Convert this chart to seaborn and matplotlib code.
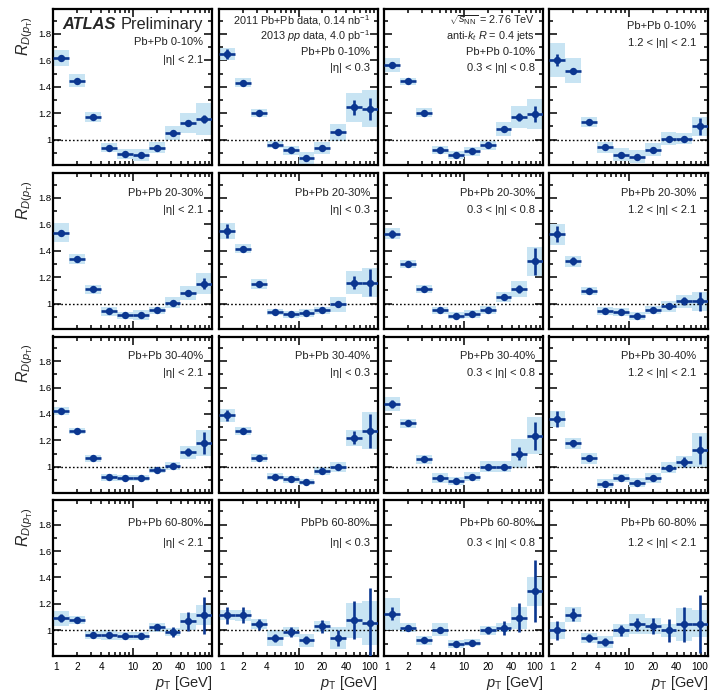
import numpy as np
import pandas as pd
import seaborn as sns
import matplotlib.pyplot as plt
from matplotlib.ticker import FixedLocator, MultipleLocator, FuncFormatter, NullFormatter

# pT bin edges [GeV], 5 bins per decade
PT_EDGES = [1.0, 1.585, 2.512, 3.981, 6.310, 10.0, 15.85, 25.12, 39.81, 63.10, 100.0]

CENTRALITY = ["Pb+Pb 0-10%", "Pb+Pb 20-30%", "Pb+Pb 30-40%", "Pb+Pb 60-80%"]
ETA_BINS = ["|η| < 2.1", "|η| < 0.3", "0.3 < |η| < 0.8", "1.2 < |η| < 2.1"]

# each list: one row per eta bin (column of the grid)
R_0_10 = [
    [1.617, 1.445, 1.171, 0.938, 0.892, 0.882, 0.940, 1.050, 1.126, 1.157],
    [1.647, 1.432, 1.202, 0.962, 0.919, 0.862, 0.937, 1.055, 1.244, 1.232],
    [1.566, 1.440, 1.202, 0.925, 0.887, 0.912, 0.957, 1.081, 1.171, 1.194],
    [1.604, 1.521, 1.131, 0.942, 0.885, 0.872, 0.925, 1.008, 1.008, 1.100],
]
STAT_0_10 = [
    [0.010, 0.008, 0.008, 0.008, 0.008, 0.010, 0.010, 0.012, 0.015, 0.030],
    [0.035, 0.010, 0.010, 0.010, 0.010, 0.010, 0.012, 0.015, 0.055, 0.085],
    [0.025, 0.010, 0.010, 0.010, 0.010, 0.010, 0.010, 0.015, 0.030, 0.060],
    [0.047, 0.015, 0.010, 0.010, 0.010, 0.010, 0.012, 0.015, 0.020, 0.063],
]
SYS_0_10 = [
    [0.058, 0.050, 0.037, 0.033, 0.035, 0.045, 0.042, 0.053, 0.072, 0.120],
    [0.045, 0.034, 0.030, 0.028, 0.032, 0.043, 0.048, 0.063, 0.107, 0.140],
    [0.053, 0.025, 0.034, 0.030, 0.030, 0.032, 0.033, 0.053, 0.082, 0.113],
    [0.130, 0.094, 0.038, 0.040, 0.050, 0.050, 0.050, 0.047, 0.044, 0.075],
]

R_20_30 = [
    [1.538, 1.336, 1.108, 0.942, 0.911, 0.911, 0.949, 1.008, 1.080, 1.152],
    [1.550, 1.417, 1.152, 0.936, 0.919, 0.929, 0.949, 0.995, 1.159, 1.159],
    [1.530, 1.300, 1.110, 0.950, 0.910, 0.920, 0.950, 1.050, 1.110, 1.320],
    [1.525, 1.320, 1.093, 0.942, 0.934, 0.904, 0.950, 0.980, 1.017, 1.017],
]
STAT_20_30 = [
    [0.015, 0.010, 0.010, 0.010, 0.010, 0.010, 0.010, 0.012, 0.020, 0.040],
    [0.050, 0.015, 0.010, 0.010, 0.010, 0.010, 0.010, 0.020, 0.050, 0.100],
    [0.030, 0.010, 0.010, 0.010, 0.010, 0.010, 0.010, 0.015, 0.030, 0.100],
    [0.060, 0.030, 0.010, 0.010, 0.010, 0.010, 0.010, 0.015, 0.030, 0.070],
]
SYS_20_30 = [
    [0.070, 0.038, 0.032, 0.032, 0.025, 0.038, 0.028, 0.044, 0.053, 0.080],
    [0.063, 0.033, 0.038, 0.022, 0.025, 0.028, 0.028, 0.057, 0.088, 0.107],
    [0.040, 0.030, 0.030, 0.025, 0.025, 0.030, 0.030, 0.040, 0.060, 0.110],
    [0.080, 0.040, 0.030, 0.030, 0.030, 0.030, 0.030, 0.040, 0.050, 0.070],
]

R_30_40 = [
    [1.420, 1.270, 1.065, 0.920, 0.915, 0.915, 0.975, 1.005, 1.110, 1.180],
    [1.390, 1.270, 1.070, 0.925, 0.905, 0.885, 0.970, 1.000, 1.220, 1.273],
    [1.475, 1.329, 1.058, 0.919, 0.894, 0.924, 1.002, 1.002, 1.101, 1.235],
    [1.361, 1.177, 1.066, 0.874, 0.919, 0.881, 0.919, 0.995, 1.038, 1.129],
]
STAT_30_40 = [
    [0.015, 0.010, 0.010, 0.010, 0.010, 0.010, 0.010, 0.015, 0.030, 0.080],
    [0.040, 0.020, 0.010, 0.010, 0.010, 0.010, 0.010, 0.015, 0.050, 0.130],
    [0.030, 0.015, 0.010, 0.010, 0.010, 0.010, 0.010, 0.015, 0.050, 0.107],
    [0.060, 0.025, 0.015, 0.010, 0.010, 0.010, 0.015, 0.020, 0.040, 0.107],
]
SYS_30_40 = [
    [0.030, 0.025, 0.025, 0.025, 0.025, 0.025, 0.025, 0.030, 0.050, 0.100],
    [0.050, 0.030, 0.030, 0.025, 0.025, 0.025, 0.030, 0.040, 0.060, 0.140],
    [0.053, 0.034, 0.033, 0.038, 0.028, 0.034, 0.043, 0.044, 0.107, 0.139],
    [0.058, 0.042, 0.042, 0.032, 0.030, 0.034, 0.038, 0.038, 0.044, 0.129],
]

R_60_80 = [
    [1.093, 1.076, 0.965, 0.962, 0.960, 0.960, 1.025, 0.987, 1.068, 1.114],
    [1.114, 1.114, 1.045, 0.942, 0.987, 0.924, 1.030, 0.942, 1.076, 1.055],
    [1.126, 1.020, 0.924, 1.005, 0.899, 0.907, 1.000, 1.018, 1.096, 1.295],
    [1.000, 1.119, 0.945, 0.911, 1.000, 1.045, 1.033, 1.000, 1.045, 1.051],
]
STAT_60_80 = [
    [0.030, 0.015, 0.010, 0.012, 0.012, 0.015, 0.025, 0.035, 0.070, 0.140],
    [0.063, 0.060, 0.040, 0.030, 0.040, 0.030, 0.050, 0.060, 0.145, 0.265],
    [0.050, 0.020, 0.015, 0.015, 0.015, 0.020, 0.025, 0.050, 0.110, 0.234],
    [0.070, 0.050, 0.030, 0.030, 0.040, 0.050, 0.060, 0.086, 0.130, 0.220],
]
SYS_60_80 = [
    [0.057, 0.030, 0.032, 0.038, 0.030, 0.030, 0.034, 0.032, 0.066, 0.076],
    [0.038, 0.040, 0.038, 0.057, 0.038, 0.050, 0.044, 0.082, 0.133, 0.164],
    [0.120, 0.034, 0.034, 0.050, 0.030, 0.028, 0.034, 0.034, 0.084, 0.110],
    [0.063, 0.057, 0.038, 0.044, 0.048, 0.076, 0.060, 0.050, 0.124, 0.100],
]

R_ALL = [R_0_10, R_20_30, R_30_40, R_60_80]
STAT_ALL = [STAT_0_10, STAT_20_30, STAT_30_40, STAT_60_80]
SYS_ALL = [SYS_0_10, SYS_20_30, SYS_30_40, SYS_60_80]

DARK = "#0b3690"
BOX = "#c8e4f3"


def main():
    sns.set_style("ticks")
    plt.rcParams["font.family"] = ["Liberation Sans", "DejaVu Sans"]
    plt.rcParams["mathtext.fontset"] = "custom"
    plt.rcParams["mathtext.rm"] = "Liberation Sans"
    plt.rcParams["mathtext.it"] = "Liberation Sans:italic"
    plt.rcParams["mathtext.bf"] = "Liberation Sans:bold"

    W, H = 726, 697
    fig = plt.figure(figsize=(W / 100, H / 100), dpi=100)

    col_left = [53.3, 219.0, 384.3, 549.3]
    row_top = [9.3, 173.3, 336.5, 500.0]
    pw, ph = 159.0, 156.0

    edges = np.array(PT_EDGES)
    lo, hi = edges[:-1], edges[1:]
    ctr = np.sqrt(lo * hi)

    # vertical offsets (px from panel top) of the label lines
    label_rows = {0: (32.7, 50.7), 1: (20, 36.7), 2: (20, 36.5), 3: (23.3, 43.3)}

    for r in range(4):
        for c in range(4):
            rect = [col_left[c] / W, 1 - (row_top[r] + ph) / H, pw / W, ph / H]
            ax = fig.add_axes(rect)
            ax.set_xscale("log")

            val = np.array(R_ALL[r][c])
            st = np.array(STAT_ALL[r][c])
            sy = np.array(SYS_ALL[r][c])

            ax.bar(lo, 2 * sy, width=hi - lo, bottom=val - sy, align="edge",
                   color=BOX, linewidth=0, zorder=1)
            ax.axhline(1.0, color="black", ls=(0, (1.2, 1.6)), lw=1.0, zorder=2)
            ax.errorbar(ctr, val, xerr=[ctr - lo, hi - ctr], yerr=st, fmt="none",
                        ecolor=DARK, elinewidth=1.9, capsize=0, zorder=3)
            df = pd.DataFrame({"pt": ctr, "R": val})
            sns.scatterplot(data=df, x="pt", y="R", ax=ax, color=DARK, s=28,
                            marker="o", linewidth=0, zorder=4)

            ax.set_xlim(1, 100)
            ax.set_ylim(0.806, 1.986)
            ax.xaxis.set_major_locator(FixedLocator([1, 10, 100]))
            ax.xaxis.set_minor_locator(FixedLocator(
                [2, 3, 4, 5, 6, 7, 8, 9, 20, 30, 40, 50, 60, 70, 80, 90]))
            ax.yaxis.set_major_locator(FixedLocator([1.0, 1.2, 1.4, 1.6, 1.8]))
            ax.yaxis.set_minor_locator(MultipleLocator(0.1))
            ax.tick_params(which="both", direction="in", top=True, right=True,
                           width=1.1, colors="black")
            ax.tick_params(which="major", length=5.5)
            ax.tick_params(which="minor", length=3)
            ax.tick_params(axis="x", which="both", labelsize=7.2, pad=4)
            ax.tick_params(axis="y", which="both", labelsize=6.8, pad=1.5)
            for sp in ax.spines.values():
                sp.set_linewidth(1.6)
                sp.set_color("black")

            ax.set_xlabel("")
            ax.set_ylabel("")
            if r == 3:
                ax.xaxis.set_major_formatter(FuncFormatter(lambda v, p: f"{v:g}"))
                ax.xaxis.set_minor_formatter(FuncFormatter(
                    lambda v, p: f"{v:g}" if round(v) in (2, 4, 20, 40) else ""))
                ticks = ax.xaxis.get_major_ticks()
                ticks[0].label1.set_horizontalalignment("left")
                ticks[-1].label1.set_horizontalalignment("right")
                ax.set_xlabel(r"$p_{\mathrm{T}}$ [GeV]", fontsize=10.5)
                ax.xaxis.set_label_coords(1.0, -0.118)
                ax.xaxis.label.set_horizontalalignment("right")
            else:
                ax.xaxis.set_major_formatter(NullFormatter())
                ax.xaxis.set_minor_formatter(NullFormatter())

            if c == 0:
                ax.yaxis.set_major_formatter(FuncFormatter(lambda v, p: f"{v:g}"))
                ax.set_ylabel(r"$R_{D(p_{\mathrm{T}})}$", fontsize=11.5)
                ax.yaxis.set_label_coords(-0.115, 0.955)
                ax.yaxis.label.set_horizontalalignment("right")
            else:
                ax.yaxis.set_major_formatter(NullFormatter())

            tx = 0.95 if c > 0 else 0.94
            if c == 3:
                tx = 0.925
            size = 8
            if r == 0 and c == 1:
                lines = ["2011 Pb+Pb data, 0.14 nb$^{-1}$",
                         "2013 $pp$ data, 4.0 pb$^{-1}$",
                         CENTRALITY[r], ETA_BINS[c]]
                ys = [11.5, 26.8, 42.4, 59.0]
                size = 7.8
            elif r == 0 and c == 2:
                lines = [r"$\sqrt{s_{\mathrm{NN}}}$ = 2.76 TeV",
                         r"anti-$k_{t}$ $R$ = 0.4 jets",
                         CENTRALITY[r], ETA_BINS[c]]
                ys = [11.0, 26.5, 42.4, 59.0]
                size = 7.8
            elif r == 0 and c == 3:
                lines = [CENTRALITY[r], ETA_BINS[c]]
                ys = [16.7, 34.0]
            else:
                name = "PbPb 60-80%" if (r == 3 and c == 1) else CENTRALITY[r]
                lines = [name, ETA_BINS[c]]
                ys = list(label_rows[r])
            for i, (txt, yy) in enumerate(zip(lines, ys)):
                fs = size if i < 2 and len(lines) == 4 else 8
                ax.text(tx, 1 - yy / ph, txt, transform=ax.transAxes,
                        ha="right", va="center", fontsize=fs, color="#222222")

            if r == 0 and c == 0:
                atl = ax.text(0.055, 0.90, "ATLAS", transform=ax.transAxes,
                              ha="left", va="center", fontsize=11.8,
                              fontweight="bold", fontstyle="italic")
                ax.annotate("Preliminary", xy=(1, 0), xycoords=atl,
                            xytext=(3.5, 0), textcoords="offset points",
                            ha="left", va="bottom", fontsize=11.8)

    fig.savefig("out.png", dpi=100)


if __name__ == "__main__":
    main()
